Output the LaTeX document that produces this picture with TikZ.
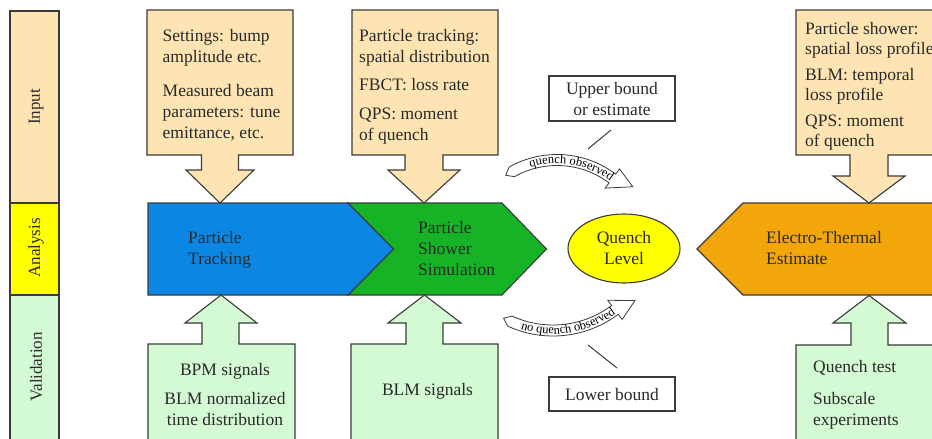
\documentclass[tikz,border=0pt]{standalone}
\usepackage{fontspec}
\setmainfont{Liberation Serif}
\usetikzlibrary{calc,shapes.geometric,decorations.text}
\definecolor{inputc}{HTML}{FDE4B2}
\definecolor{valc}{HTML}{D4FAD4}
\definecolor{anac}{HTML}{FFFF00}
\definecolor{bluec}{HTML}{0B87E3}
\definecolor{greenc}{HTML}{16B326}
\definecolor{orangec}{HTML}{F2A60A}
\definecolor{linec}{HTML}{3A3A3A}
\definecolor{txtc}{HTML}{2A2A2A}
\begin{document}
\begin{tikzpicture}[x=1pt,y=-1pt,
  outl/.style={draw=linec, line width=1.1pt, line join=miter},
  btxt/.style={font=\fontsize{17.5}{21}\selectfont, text=txtc, inner sep=0pt, align=left, anchor=north west},
  btxtb/.style={font=\fontsize{17.5}{19.5}\selectfont, text=txtc, inner sep=0pt, align=left, anchor=north west},
  ctxt/.style={btxt, align=center, anchor=north},
  ltxt/.style={font=\fontsize{17}{20}\selectfont, text=txtc, inner sep=0pt, rotate=90},
  banner/.style={draw=linec, line width=0.8pt, fill=white, line join=miter},
  conn/.style={draw=linec, line width=1pt},
  bound/.style={outl, fill=white, inner sep=0pt, minimum width=126pt}]
\useasboundingbox (0,0) rectangle (932,439);
\clip (0,0) rectangle (932,439);

% left column
\draw[outl, fill=inputc] (10,11) rectangle (59,203);
\draw[outl, fill=anac] (10,203) rectangle (59,295);
\draw[outl, fill=valc] (10,295) rectangle (59,450);
\node[ltxt] (lin) at (36,107) {Input};
\node[ltxt] (lan) at (36,248) {Analysis};
\node[ltxt] (lva) at (36,367) {Validation};

% middle row
\draw[outl, fill=greenc] (348,203) -- (502,203) -- (546.5,249) -- (502,295) -- (348,295) -- (393.5,249) -- cycle;
\draw[outl, fill=bluec] (148,203) -- (348,203) -- (393.5,249) -- (348,295) -- (148,295) -- cycle;
\draw[outl, fill=orangec] (697,249) -- (743,203) -- (945,203) -- (945,295) -- (743,295) -- cycle;
\node[btxt] (pt) at (188,243.5-14.7) {\strut Particle\\Tracking};
\node[btxt] (ps) at (418,233.5-14.7) {\strut Particle\\Shower\\Simulation};
\node[btxt] (et) at (766,243.5-14.7) {\strut Electro-Thermal\\Estimate};
\node[ellipse, outl, fill=anac, minimum width=112pt, minimum height=69pt, inner sep=0pt] (ql) at (624,248.5) {};
\node[ctxt] (qlt) at (624,243.5-14.7) {\strut Quench\\Level};

% top input boxes
\draw[outl, fill=inputc] (147,10) -- (293,10) -- (293,155) -- (238.5,155) -- (238.5,170) -- (254,170) -- (220,203) -- (186,170) -- (201.5,170) -- (201.5,155) -- (147,155) -- cycle;
\draw[outl, fill=inputc] (352,10) -- (498,10) -- (498,155) -- (443,155) -- (443,170) -- (460,170) -- (424,203) -- (388,170) -- (405,170) -- (405,155) -- (352,155) -- cycle;
\draw[outl, fill=inputc] (796,10) -- (945,10) -- (945,155) -- (888,155) -- (888,176) -- (905,176) -- (869,203) -- (833,176) -- (850,176) -- (850,155) -- (796,155) -- cycle;
\node[btxt] (in1) at (162.5,41.5-14.7) {\strut Settings: bump\\amplitude etc.\\[13pt]Measured beam\\parameters: tune\\emittance, etc.};
\node[btxt] (in2) at (359,41.5-14.7) {\strut Particle tracking:\\spatial distribution\\[7pt]FBCT: loss rate\\[8pt]QPS: moment\\of quench};
\node[btxtb] (in3) at (805,35.5-14.7) {\strut Particle shower:\\spatial loss profile\\[7pt]BLM: temporal\\loss profile\\[7pt]QPS: moment\\of quench};

% bottom validation boxes
\draw[outl, fill=valc] (148,450) -- (148,344) -- (202,344) -- (202,323) -- (185,323) -- (221,295) -- (257,323) -- (239,323) -- (239,344) -- (295,344) -- (295,450) -- cycle;
\draw[outl, fill=valc] (351,450) -- (351,344) -- (406,344) -- (406,323) -- (388,323) -- (424.5,295) -- (461,323) -- (443,323) -- (443,344) -- (498,344) -- (498,450) -- cycle;
\draw[outl, fill=valc] (796,450) -- (796,345) -- (851,345) -- (851,323) -- (833,323) -- (869,295.5) -- (906,323) -- (888,323) -- (888,345) -- (945,345) -- (945,450) -- cycle;
\node[ctxt] (va1) at (225,375.5-14.7) {\strut BPM signals\\[7.5pt]BLM normalized\\time distribution};
\node[ctxt] (va2) at (427.5,395.5-14.7) {\strut BLM signals};
\node[btxt] (va3) at (813,372-14.7) {\strut Quench test\\[11pt]Subscale\\experiments};

% bound boxes
\node[bound, minimum height=45pt] (ub) at (612,98.5) {};
\node[ctxt] (ubt) at (612,94-14.7) {\strut Upper bound\\or estimate};
\node[bound, minimum height=34pt] (lb) at (612,394) {};
\node[ctxt] (lbt) at (612,400-14.7) {\strut Lower bound};
\coordinate (u1) at (611,130);
\coordinate (u2) at (588,149);
\coordinate (l1) at (588,345);
\coordinate (l2) at (617,368);
\draw[conn] (u1) -- (u2);
\draw[conn] (l1) -- (l2);

% banners
\coordinate (c1) at (557,252);
\draw[banner] ($(c1)+(-119.4:92)+(150.6:7)$) -- ($(c1)+(-119.4:97.5)$) arc[start angle=-119.4, end angle=-53, radius=97.5]
  -- ($(c1)+(-53:104)$) -- ($(c1)+(-53:92)+(22:22)$) -- ($(c1)+(-53:80)$) -- ($(c1)+(-53:86.5)$)
  arc[start angle=-53, end angle=-119.4, radius=86.5] -- cycle;
\path[decorate, decoration={text along path, text={|\fontsize{12.5}{14}\selectfont|quench observed}, text align=center}]
  ($(c1)+(-119.4:88.5)$) arc[start angle=-119.4, end angle=-41, radius=88.5];

\coordinate (c2) at (553,227);
\draw[banner] ($(c2)+(114.6:103.5)+(204.6:7)$) -- ($(c2)+(114.6:98)$) arc[start angle=114.6, end angle=53.2, radius=98]
  -- ($(c2)+(53.2:91.5)$) -- ($(c2)+(53.2:103.5)+(-25:22)$) -- ($(c2)+(53.2:115.5)$) -- ($(c2)+(53.2:109)$)
  arc[start angle=53.2, end angle=114.6, radius=109] -- cycle;
\path[decorate, decoration={text along path, text={|\fontsize{12.5}{14}\selectfont|no quench observed}, text align=center}]
  ($(c2)+(114.6:107)$) arc[start angle=114.6, end angle=47, radius=107];
\end{tikzpicture}
\end{document}
